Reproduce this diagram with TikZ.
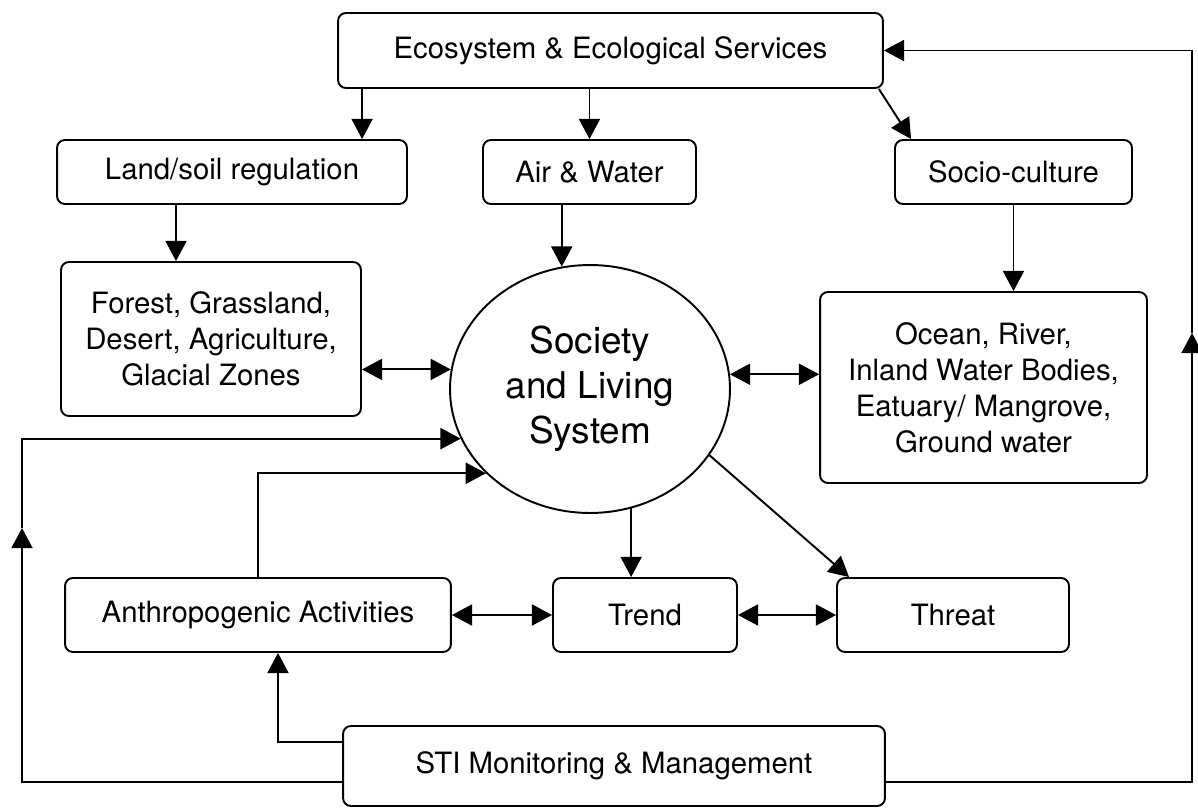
\documentclass[tikz,border=0pt]{standalone}
\usepackage{fontspec}
\setmainfont{TeX Gyre Heros}
\usetikzlibrary{shapes.geometric, arrows.meta, positioning, calc}

\begin{document}
\begin{tikzpicture}[x=0.02cm, y=-0.02cm]
    \tikzstyle{box} = [rectangle, rounded corners=4.5pt, draw=black, line width=1.1pt, align=center, inner sep=0pt, font=\fontsize{16.7}{20.5}\selectfont]
    \tikzstyle{arrow} = [line width=1.1pt,->,>={Triangle[length=11.5pt,width=12pt]}]

    \useasboundingbox (0,0) rectangle (1198,808);

    \node[box, minimum width=10.9cm, minimum height=1.5cm] (eco) at (610.5,50.5) {Ecosystem \& Ecological Services};
    \node[box, minimum width=7cm, minimum height=1.28cm] (land) at (232,172) {Land/soil regulation};
    \node[box, minimum width=4.26cm, minimum height=1.28cm] (air) at (589.5,172) {Air \& Water};
    \node[box, minimum width=4.74cm, minimum height=1.28cm] (socio) at (1013.5,172) {Socio-culture};
    \node[box, minimum width=6cm, minimum height=3.08cm] (forest) at (211,339) {Forest, Grassland,\\Desert, Agriculture,\\Glacial Zones};
    \node[box, minimum width=6.54cm, minimum height=3.82cm] (ocean) at (983.5,387.5) {Ocean, River,\\Inland Water Bodies,\\Eatuary/ Mangrove,\\Ground water};
    \node[ellipse, draw=black, line width=1.1pt, inner sep=0pt, minimum width=5.6cm, minimum height=4.96cm, align=center, font=\fontsize{21}{25.5}\selectfont] (soc) at (590,389) {Society\\and Living\\System};
    \node[box, minimum width=7.72cm, minimum height=1.48cm] (anthro) at (258,615) {Anthropogenic Activities};
    \node[box, minimum width=3.68cm, minimum height=1.48cm] (trend) at (645,615) {Trend};
    \node[box, minimum width=4.64cm, minimum height=1.48cm] (threat) at (953,615) {Threat};
    \node[box, minimum width=10.84cm, minimum height=1.6cm] (sti) at (614,766) {STI Monitoring \& Management};

    % from the ecosystem box
    \draw[arrow] ([xshift=0.5cm]eco.south west) coordinate (e1) -- (e1 |- land.north);
    \draw[arrow] (eco.south -| air.north) -- (air.north);
    \draw[arrow] ([xshift=-0.1cm]eco.south east) -- ([xshift=0.34cm]socio.north west);

    \coordinate (f1) at ([xshift=-0.7cm]forest.north);
    \draw[arrow] (f1 |- land.south) -- (f1);
    \draw[arrow] (soc.103 |- air.south) -- (soc.103);
    \draw[arrow] (socio.south) -- (socio.south |- ocean.north);

    % around the society
    \draw[arrow,<->] (soc.172 -| forest.east) -- (soc.172);
    \draw[arrow,<->] (soc.6) -- (soc.6 -| ocean.west);
    \draw[arrow] (soc.-71) -- (soc.-71 |- trend.north);
    \draw[arrow] (soc.-29) -- ([xshift=0.26cm]threat.north west);
    \draw[arrow,<->] (anthro) -- (trend);
    \draw[arrow,<->] (trend) -- (threat);

    % feedback from STI
    \coordinate (acorner) at (278,742);
    \draw[arrow] (acorner -| sti.west) -- (acorner) -- (acorner |- anthro.south);
    \draw[arrow] (anthro.north) |- (soc.219);

    \coordinate (lcorner) at (22,782);
    \coordinate (lmid) at (22,528);
    \draw[arrow] (lcorner -| sti.west) -- (lcorner) -- (lmid);
    \draw[arrow] (lmid) |- (soc.201);

    \coordinate (rcorner) at (1192,782);
    \coordinate (rmid) at (1192,333);
    \draw[arrow] (rcorner -| sti.east) -- (rcorner) -- (rmid);
    \draw[arrow] (rmid) |- (eco.east);
\end{tikzpicture}
\end{document}
